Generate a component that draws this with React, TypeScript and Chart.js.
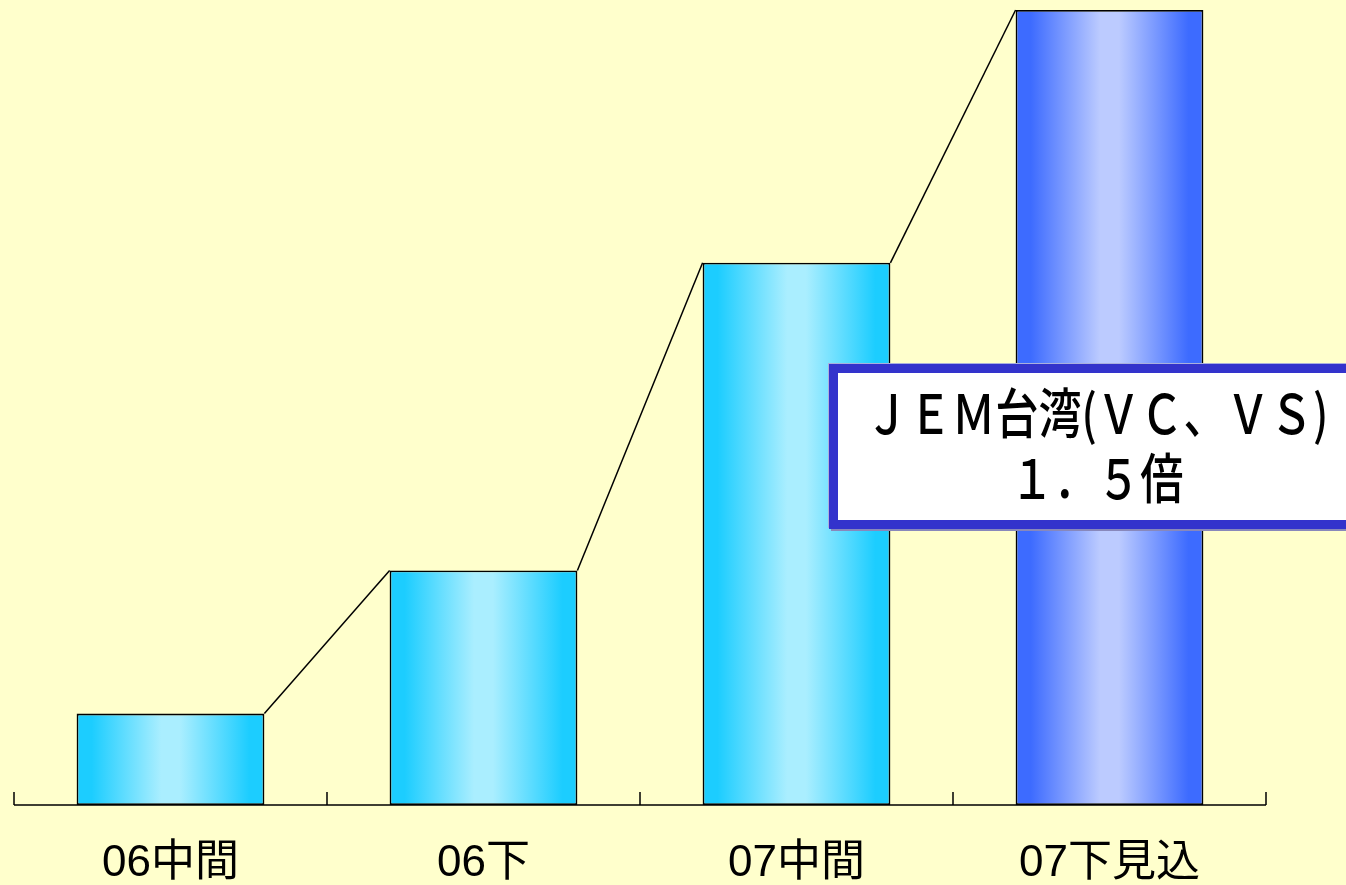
import React, { useEffect, useRef } from 'react';
import { Chart, registerables } from 'chart.js';

Chart.register(...registerables);

// values (arbitrary units, last bar = scale top)
const categories = ['06中間', '06下', '07中間', '07下見込'];
const values = [23, 59, 136.4, 200];
const yMax = 200;

const cyanStops = ['#1ccdff', '#aaeeff', '#1ccdff'];
const blueStops = ['#3d6bff', '#bccbff', '#3d6bff'];

const calloutLines = ['ＪＥＭ台湾(ＶＣ、ＶＳ)', '１．５倍'];

const barLinks = {
  id: 'barLinks',
  afterDatasetsDraw(chart: Chart) {
    const { ctx, chartArea } = chart;
    const x = chart.scales.x;
    const bars = chart.getDatasetMeta(0).data as any[];
    ctx.save();
    ctx.strokeStyle = '#000';
    ctx.lineWidth = 1.5;
    // lines joining the top corners of neighbouring bars
    for (let i = 0; i < bars.length - 1; i++) {
      const a = bars[i];
      const b = bars[i + 1];
      ctx.beginPath();
      ctx.moveTo(a.x + a.width / 2, a.y);
      ctx.lineTo(b.x - b.width / 2, b.y);
      ctx.stroke();
    }
    // axis line with upward ticks at the category borders
    const step = (x.right - x.left) / categories.length;
    ctx.beginPath();
    ctx.moveTo(x.left, chartArea.bottom);
    ctx.lineTo(x.right, chartArea.bottom);
    for (let i = 0; i <= categories.length; i++) {
      const px = x.left + i * step;
      ctx.moveTo(px, chartArea.bottom);
      ctx.lineTo(px, chartArea.bottom - 13);
    }
    ctx.stroke();
    ctx.restore();
  },
};

export default function App() {
  const canvasRef = useRef<HTMLCanvasElement>(null);
  const chartRef = useRef<Chart | null>(null);

  useEffect(() => {
    document.body.style.margin = '0';
    if (!canvasRef.current) return;
    const ctx = canvasRef.current.getContext('2d');
    if (!ctx) return;

    const fill = (c: any) => {
      const stops = c.dataIndex === values.length - 1 ? blueStops : cyanStops;
      const chart = c.chart;
      const x = chart.scales?.x;
      if (!chart.chartArea || !x) return stops[0];
      const step = (x.right - x.left) / categories.length;
      const center = x.getPixelForValue(c.dataIndex);
      const w = step * 0.6;
      const g = chart.ctx.createLinearGradient(center - w / 2, 0, center + w / 2, 0);
      g.addColorStop(0, stops[0]);
      g.addColorStop(0.08, stops[0]);
      g.addColorStop(0.45, stops[1]);
      g.addColorStop(0.55, stops[1]);
      g.addColorStop(0.92, stops[2]);
      g.addColorStop(1, stops[2]);
      return g;
    };

    chartRef.current = new Chart(ctx, {
      type: 'bar',
      data: {
        labels: categories,
        datasets: [
          {
            data: values,
            backgroundColor: fill,
            borderColor: '#000',
            borderWidth: 1.8,
            borderSkipped: false,
            barPercentage: 0.6,
            categoryPercentage: 1,
          },
        ],
      },
      options: {
        animation: false,
        responsive: true,
        maintainAspectRatio: false,
        layout: { padding: { left: 14, right: 80, top: 10, bottom: 0 } },
        plugins: {
          legend: { display: false },
          tooltip: { enabled: false },
        },
        scales: {
          x: {
            grid: { display: false, drawTicks: false },
            border: { display: false },
            afterFit: (scale: any) => {
              scale.height = 80;
            },
            ticks: {
              color: '#000',
              padding: 37,
              font: {
                family: '"Liberation Sans", Arial, "Noto Sans CJK JP", sans-serif',
                size: 44,
                lineHeight: 1,
              },
            },
          },
          y: {
            display: false,
            min: 0,
            max: yMax,
          },
        },
      },
      plugins: [barLinks],
    });

    return () => {
      chartRef.current?.destroy();
      chartRef.current = null;
    };
  }, []);

  return (
    <div
      style={{
        position: 'relative',
        width: 1346,
        height: 885,
        overflow: 'hidden',
        background: '#ffffcc',
      }}
    >
      <canvas ref={canvasRef}></canvas>
      <div
        style={{
          position: 'absolute',
          left: 829,
          top: 364,
          width: 536,
          height: 165,
          boxSizing: 'border-box',
          border: '9px solid #3333cc',
          background: '#fff',
          boxShadow: '2px 2px 0 #8888bb, -1px -1px 0 #aab0dd',
          fontFamily: '"Noto Sans CJK JP", sans-serif',
          fontSize: 54,
          fontWeight: 500,
          color: '#000',
        }}
      >
        {calloutLines.map((line, i) => (
          <div
            key={i}
            style={{
              position: 'absolute',
              left: '50%',
              top: 6 + i * 65,
              lineHeight: '64px',
              whiteSpace: 'nowrap',
              transform: 'translateX(-50%) scaleX(0.8)',
            }}
          >
            {line}
          </div>
        ))}
      </div>
    </div>
  );
}
